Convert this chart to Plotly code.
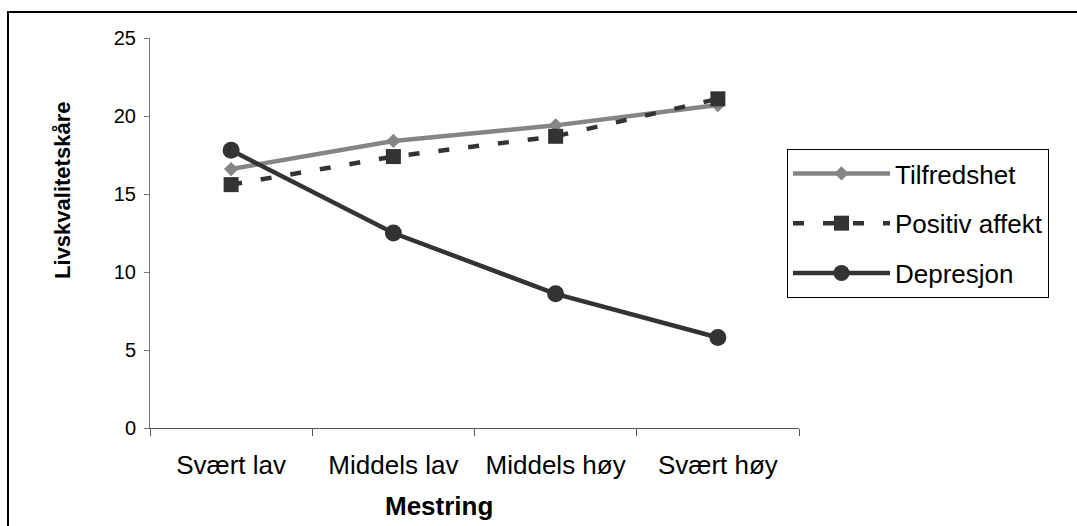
import plotly.graph_objects as go

# Mestring levels and quality-of-life scores
categories = ["Svært lav", "Middels lav", "Middels høy", "Svært høy"]
tilfredshet = [16.6, 18.4, 19.4, 20.7]
positiv_affekt = [15.6, 17.4, 18.7, 21.1]
depresjon = [17.8, 12.5, 8.6, 5.8]
y_ticks = [0, 5, 10, 15, 20, 25]

FONT = "Liberation Sans, Arial, sans-serif"

fig = go.Figure()
fig.add_trace(go.Scatter(
    x=categories, y=tilfredshet, name="Tilfredshet", mode="lines+markers",
    legendgroup="a",
    line=dict(color="#858585", width=4.5),
    marker=dict(symbol="diamond", size=11, color="#858585"),
))
fig.add_trace(go.Scatter(
    x=categories, y=positiv_affekt, name="Positiv affekt", mode="lines+markers",
    legendgroup="b",
    line=dict(color="#333333", width=4.5, dash="11px,19px"),
    marker=dict(symbol="square", size=15, color="#333333"),
))
fig.add_trace(go.Scatter(
    x=categories, y=depresjon, name="Depresjon", mode="lines+markers",
    legendgroup="c",
    line=dict(color="#333333", width=4.5),
    marker=dict(symbol="circle", size=17, color="#333333"),
))

fig.update_layout(
    width=1077, height=526,
    margin=dict(l=150, r=278, t=38, b=98),
    paper_bgcolor="white", plot_bgcolor="white",
    font=dict(family=FONT, color="black"),
    showlegend=True,
    legend=dict(
        x=0.9815, y=0.7154, xanchor="left", yanchor="top",
        bordercolor="black", borderwidth=1, bgcolor="white",
        font=dict(size=26, family=FONT),
        itemwidth=97, tracegroupgap=13,
    ),
    xaxis=dict(
        type="category", range=[-0.5, 3.5],
        showgrid=False, zeroline=False,
        showline=True, linecolor="#555555", linewidth=1,
        ticks="outside", tickson="boundaries", ticklen=7, tickcolor="#555555",
        tickfont=dict(size=26, family=FONT),
        ticklabelstandoff=14,
    ),
    yaxis=dict(
        range=[0, 25], tickvals=y_ticks,
        showgrid=False, zeroline=False,
        showline=True, linecolor="#777777", linewidth=1,
        ticks="outside", ticklen=5, tickcolor="#777777",
        tickfont=dict(size=20, family=FONT),
        ticklabelstandoff=4,
    ),
    annotations=[
        dict(text="<b>Livskvalitetskåre</b>", x=-0.134, y=0.608,
             xref="paper", yref="paper", xanchor="center", yanchor="middle",
             textangle=-90, showarrow=False,
             font=dict(size=22, family=FONT)),
        dict(text="<b>Mestring</b>", x=0.446, y=-0.2,
             xref="paper", yref="paper", xanchor="center", yanchor="middle",
             showarrow=False,
             font=dict(size=26, family=FONT)),
    ],
    shapes=[
        dict(type="rect", xref="paper", yref="paper",
             x0=-0.2188, y0=-1.0, x1=2.0, y1=1.0667,
             line=dict(color="black", width=2), layer="below"),
    ],
)

fig.write_html("out.html")
